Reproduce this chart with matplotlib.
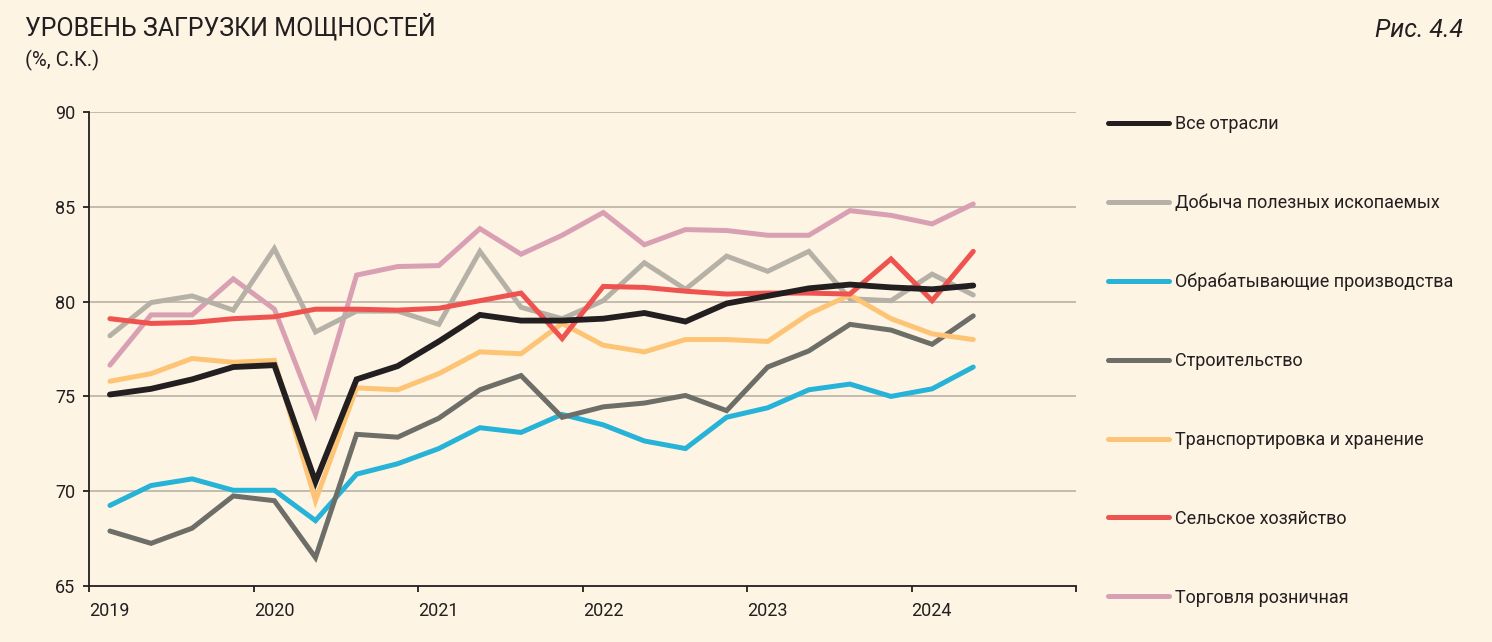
import matplotlib.pyplot as plt
from matplotlib.lines import Line2D
import numpy as np

plt.rcParams['font.family'] = ['Roboto', 'DejaVu Sans']

# quarterly observations, 2019 Q1 .. 2024 Q2
first_year = 2019
n_quarters = 22

all_industries = [75.1, 75.4, 75.9, 76.55, 76.65, 70.5, 75.9, 76.6, 77.9, 79.3, 79.0,
                  79.0, 79.1, 79.4, 78.95, 79.9, 80.3, 80.7, 80.9, 80.75, 80.65, 80.85]
mining = [78.2, 79.95, 80.3, 79.55, 82.8, 78.4, 79.5, 79.5, 78.8, 82.65, 79.7,
          79.1, 80.05, 82.05, 80.65, 82.4, 81.6, 82.65, 80.15, 80.05, 81.45, 80.35]
manufacturing = [69.25, 70.3, 70.65, 70.05, 70.05, 68.45, 70.9, 71.45, 72.25, 73.35, 73.1,
                 74.05, 73.5, 72.65, 72.25, 73.9, 74.4, 75.35, 75.65, 75.0, 75.4, 76.55]
construction = [67.9, 67.25, 68.05, 69.75, 69.5, 66.5, 73.0, 72.85, 73.85, 75.35, 76.1,
                73.9, 74.45, 74.65, 75.05, 74.25, 76.55, 77.4, 78.8, 78.5, 77.75, 79.25]
transport = [75.8, 76.2, 77.0, 76.8, 76.9, 69.5, 75.45, 75.35, 76.2, 77.35, 77.25,
             78.85, 77.7, 77.35, 78.0, 78.0, 77.9, 79.35, 80.35, 79.1, 78.3, 78.0]
agriculture = [79.1, 78.85, 78.9, 79.1, 79.2, 79.6, 79.6, 79.55, 79.65, 80.05, 80.45,
               78.05, 80.8, 80.75, 80.55, 80.4, 80.45, 80.45, 80.4, 82.25, 80.05, 82.65]
retail = [76.65, 79.3, 79.3, 81.2, 79.6, 74.05, 81.4, 81.85, 81.9, 83.85, 82.5,
          83.5, 84.7, 83.0, 83.8, 83.75, 83.5, 83.5, 84.8, 84.55, 84.1, 85.15]

labels = ["Все отрасли", "Добыча полезных ископаемых", "Обрабатывающие производства",
          "Строительство", "Транспортировка и хранение", "Сельское хозяйство",
          "Торговля розничная"]
series = [all_industries, mining, manufacturing, construction, transport, agriculture, retail]
colors = ["#231f20", "#b6b1a7", "#27b3d8", "#6e6e68", "#fec476", "#ef5350", "#d9a0b4"]
widths = [4.2, 3.6, 3.6, 3.6, 3.6, 3.6, 3.6]
zorders = [10, 4, 5, 6, 7, 8, 3]

years = list(range(2019, 2026))
year_labels = [str(y) for y in years[:-1]] + [""]

bg = "#fdf4e4"
x = first_year + 0.125 + 0.25 * np.arange(n_quarters)

fig = plt.figure(figsize=(14.92, 6.42), dpi=100, facecolor=bg)
ax = fig.add_axes([0.0599, 0.0872, 0.6613, 0.7383], facecolor=bg)

for vals, col, lw, z in zip(series, colors, widths, zorders):
    ax.plot(x, vals, color=col, lw=lw, zorder=z, solid_capstyle='round', solid_joinstyle='miter')

ax.set_xlim(2019, 2025)
ax.set_ylim(65, 90)
ax.set_yticks([65, 70, 75, 80, 85, 90])
ax.set_xticks(years)
ax.set_xticklabels(year_labels, ha='left')

for yv in [70, 75, 80, 85, 90]:
    ax.axhline(yv, color="#bdb6aa", lw=1.3, zorder=1)

for s in ['top', 'right']:
    ax.spines[s].set_visible(False)
for s in ['left', 'bottom']:
    ax.spines[s].set_color("#231f20")
    ax.spines[s].set_linewidth(1.3)

ax.tick_params(axis='y', length=4.5, width=1.3, color="#231f20", pad=5.5,
               labelsize=13, labelcolor="#231f20")
ax.tick_params(axis='x', length=4.5, width=1.3, color="#231f20", pad=7,
               labelsize=13, labelcolor="#231f20")

handles = [Line2D([], [], color=c, lw=3.6, solid_capstyle='round') for c in colors]
fig.legend(handles, labels, loc='upper left', bbox_to_anchor=(0.7426, 0.8209),
           frameon=False, fontsize=13, handlelength=3.4, handletextpad=0.3,
           labelspacing=3.37, borderpad=0, borderaxespad=0, labelcolor="#231f20")

fig.text(0.0168, 0.944, "УРОВЕНЬ ЗАГРУЗКИ МОЩНОСТЕЙ", fontsize=18, color="#231f20",
         va='baseline', ha='left')
fig.text(0.0168, 0.897, "(%, С.К.)", fontsize=14.5, color="#231f20", va='baseline', ha='left')
fig.text(0.9807, 0.943, "Рис. 4.4", fontsize=18, style='italic', color="#231f20",
         va='baseline', ha='right')

fig.savefig("out.png", dpi=100, facecolor=bg)
